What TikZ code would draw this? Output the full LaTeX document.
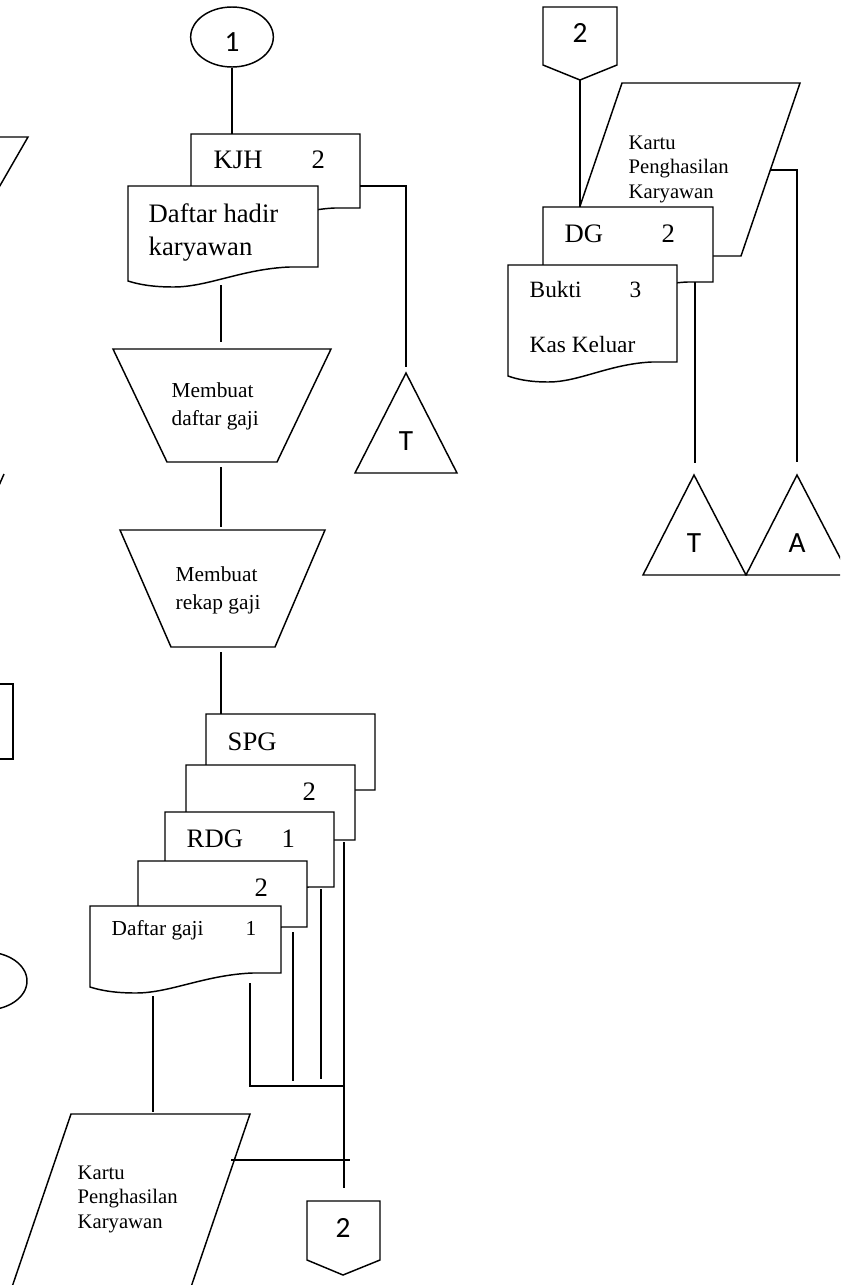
\documentclass[tikz,border=0pt]{standalone}
\usepackage{fontspec}
\setmainfont{Liberation Serif}
\newfontfamily\calfont{Carlito}
\usetikzlibrary{shapes.geometric}

% document symbol: left, top, right, bottom of right side
\newcommand{\docsym}[4]{%
  \draw[fill=white] (#1,#2) -- (#3,#2) -- (#3,#4) -- ({#3-0.15*(#3-#1)},#4)
    .. controls ({#3-0.4*(#3-#1)},{#4+2}) and ({#1+0.42*(#3-#1)},{#4+20}) .. ({#1+0.24*(#3-#1)},{#4+20})
    .. controls ({#1+0.12*(#3-#1)},{#4+20}) and ({#1+0.05*(#3-#1)},{#4+17}) .. (#1,{#4+14}) -- cycle;}

\begin{document}
\begin{tikzpicture}[x=0.75pt, y=-0.75pt, line width=1.1pt, line join=miter]
    \tikzstyle{txt_big} = [inner sep=0, anchor=base west, font=\fontsize{20}{24.75}\selectfont]
    \tikzstyle{txt_mid} = [inner sep=0, anchor=base west, font=\fontsize{16}{21}\selectfont]
    \tikzstyle{txt_doc} = [inner sep=0, anchor=base west, font=\fontsize{17.5}{21}\selectfont]
    \tikzstyle{txt_kpk} = [inner sep=0, anchor=west, align=left, font=\fontsize{15.5}{18.4}\selectfont]
    \tikzstyle{txt_con} = [inner sep=0, font=\calfont\fontsize{22}{24}\selectfont]

    \useasboundingbox (0,0) rectangle (840,1285);
    \fill[white] (0,0) rectangle (840,1285);
    \clip (0,0) rectangle (840,1285);

    % pieces of the previous column
    \draw (-60,137) -- (28,137) -- (-10,203);
    \draw (4,474) -- (-3,490);
    \draw (-20,684) -- (13,684) -- (13,759) -- (-20,759);
    \draw (-14,981) ellipse [x radius=41, y radius=29];

    % connector 1 and attendance
    \node[draw, ellipse, minimum width=62pt, minimum height=45pt, text height=21pt, txt_con] (c1) at (232,37) {1};
    \docsym{191}{134}{360}{208}
    \docsym{128}{186}{318}{267}
    \node[txt_big] (kjh) at (213,168) {KJH};
    \node[txt_big] (kjh2) at (311,168) {2};
    \node[txt_big, anchor=west, align=left] (dh) at (148,232) {Daftar hadir\\karyawan};

    \coordinate (kjh_t) at (232,134);
    \coordinate (kjh_r) at (360,186);
    \coordinate (dh_b) at (221,285);

    % archive T
    \draw (406,373) -- (457,473) -- (355,473) -- cycle;
    \node[txt_con] (t1) at (406,441) {T};
    \coordinate (t1_top) at (406,367);

    % manual processes
    \draw (113,349) -- (331,349) -- (277,462) -- (167,462) -- cycle;
    \node[txt_mid, anchor=west, align=left] (mdg) at (171,406) {Membuat\\daftar gaji};
    \draw (120,530) -- (325,530) -- (275,647) -- (171,647) -- cycle;
    \node[txt_mid, anchor=west, align=left] (mrg) at (175,590) {Membuat\\rekap gaji};
    \coordinate (p1_t) at (221,342);
    \coordinate (p1_b) at (221,467);
    \coordinate (p2_t) at (221,527);
    \coordinate (p2_b) at (221,652);

    % output documents
    \docsym{206}{714}{375}{790}
    \docsym{186}{765}{355}{840}
    \docsym{165}{812}{334}{887}
    \docsym{138}{861}{307}{927}
    \docsym{90}{906}{281}{973}
    \node[txt_big] (spg) at (227,750) {SPG};
    \node[txt_big] (d2a) at (302,800) {2};
    \node[txt_big] (rdg) at (186,847) {RDG};
    \node[txt_big] (rdg1) at (281,847) {1};
    \node[txt_big] (d2b) at (254,896) {2};
    \node[txt_mid] (dgj) at (111,935) {Daftar gaji};
    \node[txt_mid] (dgj1) at (245,935) {1};
    \coordinate (spg_t) at (221,714);
    \coordinate (dgj_b) at (153,996);
    \coordinate (dgj_r) at (250,983);
    \coordinate (d2b_r) at (293,932);
    \coordinate (rdg_r) at (321,889);
    \coordinate (d2a_r) at (344,842);
    \coordinate (jn) at (344,1086);

    % earnings card
    \draw (71,1114) -- (250,1114) -- (191,1287) -- (12,1287) -- cycle;
    \node[txt_kpk] (kpk) at (77,1199) {Kartu\\Penghasilan\\Karyawan};
    \coordinate (kpk_t) at (153,1112);
    \coordinate (kpk_r) at (231,1160);
    \coordinate (kpk_x) at (350,1160);

    % off-page connector 2 (out)
    \draw (307,1201) -- (380,1201) -- (380,1260) -- (343,1275) -- (307,1260) -- cycle;
    \node[txt_con] (op2) at (343,1228) {2};
    \coordinate (op2_t) at (344,1188);

    % off-page connector 2 (in)
    \draw (543,7) -- (617,7) -- (617,65) -- (580,80) -- (543,65) -- cycle;
    \node[txt_con] (ip2) at (580,33) {2};
    \coordinate (ip2_b) at (580,80);

    % right column
    \draw[fill=white] (622,83) -- (800,83) -- (741,256) -- (563,256) -- cycle;
    \node[txt_kpk] (kpk_b) at (628,169) {Kartu\\Penghasilan\\Karyawan};
    \docsym{543}{207}{713}{282}
    \docsym{508}{265}{677}{362}
    \node[txt_big] (dg) at (564,242) {DG};
    \node[txt_big] (dg2) at (661,242) {2};
    \node[txt_doc] (bk) at (529,297) {Bukti};
    \node[txt_doc] (bk3) at (629,297) {3};
    \node[txt_doc] (kk) at (529,352) {Kas Keluar};
    \coordinate (dg_t) at (580,207);
    \coordinate (dg_b) at (695,282);
    \coordinate (kpkb_r) at (771,170);

    \draw (694,475) -- (746,575) -- (643,575) -- cycle;
    \node[txt_con] (t2) at (694,543) {T};
    \draw (797,475) -- (849,575) -- (746,575) -- cycle;
    \node[txt_con] (a1) at (797,543) {A};
    \coordinate (t2_top) at (695,463);
    \coordinate (a1_top) at (797,462);

    % flow lines
    \draw (c1.south) -- (kjh_t);
    \draw (kjh_r) -| (t1_top);
    \draw (dh_b) -- (p1_t);
    \draw (p1_b) -- (p2_t);
    \draw (p2_b) -- (spg_t);
    \draw (dgj_b) -- (kpk_t);
    \draw (dgj_r) |- (jn);
    \draw (d2b_r) -- (293,1081);
    \draw (rdg_r) -- (321,1079);
    \draw (d2a_r) -- (op2_t);
    \draw (kpk_r) -- (kpk_x);
    \draw (ip2_b) -- (dg_t);
    \draw (dg_b) -- (t2_top);
    \draw (kpkb_r) -| (a1_top);

\end{tikzpicture}
\end{document}
